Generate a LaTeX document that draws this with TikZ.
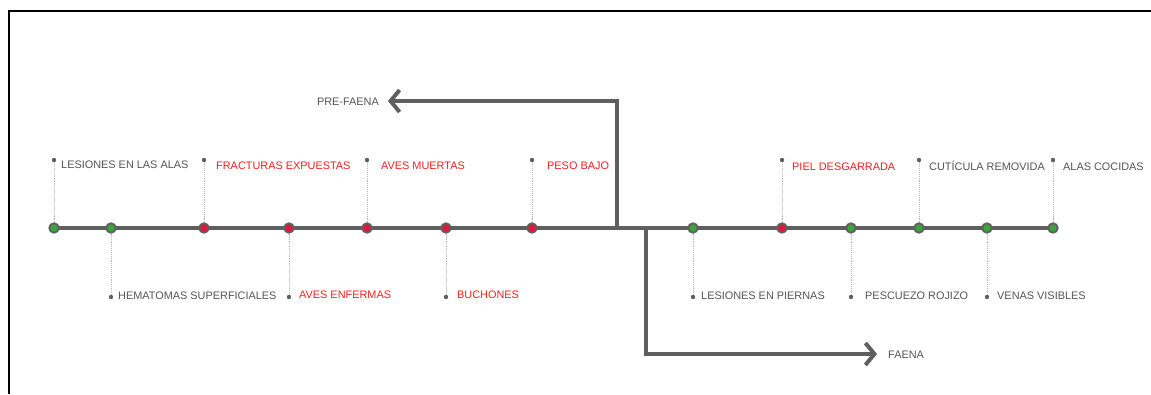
\documentclass[tikz,border=0pt]{standalone}
\usepackage{fontspec}
\setmainfont{Liberation Sans}
\usetikzlibrary{arrows.meta,backgrounds}
\definecolor{linegray}{HTML}{5F5F5F}
\definecolor{txtgray}{HTML}{555555}
\definecolor{okgreen}{HTML}{3AA63A}
\definecolor{badred}{HTML}{E3173A}
\definecolor{txtred}{HTML}{FF1F1F}
\definecolor{pingray}{HTML}{B5B5B5}
\tikzset{
  okdot/.style={circle, fill=okgreen, draw=linegray, line width=1.8pt, minimum size=9.5pt, inner sep=0pt},
  baddot/.style={okdot, fill=badred},
  tag/.style={circle, fill=linegray, minimum size=4.4pt, inner sep=0pt},
  lbl/.style={anchor=west, inner sep=0pt, text height=8pt, text depth=0pt, text=txtgray, font=\fontsize{10.9}{12}\selectfont},
  redlbl/.style={lbl, text=txtred},
  pin/.style={pingray, densely dotted, line width=0.9pt},
  flow/.style={linegray, line width=4pt, -{Straight Barb[length=9pt,width=22pt]}}
}
\begin{document}
\begin{tikzpicture}[x=1pt, y=-1pt]
\useasboundingbox (0,0) rectangle (1151,394);
\draw[line width=2pt] (9,394) -- (9,11) -- (1151,11);
\node[okdot] (d1) at (54,228) {};
\node[okdot] (d2) at (111,228) {};
\node[baddot] (d3) at (204,228) {};
\node[baddot] (d4) at (289,228) {};
\node[baddot] (d5) at (367,228) {};
\node[baddot] (d6) at (446,228) {};
\node[baddot] (d7) at (532,228) {};
\node[okdot] (d8) at (693,228) {};
\node[baddot] (d9) at (782,228) {};
\node[okdot] (d10) at (851,228) {};
\node[okdot] (d11) at (919,228) {};
\node[okdot] (d12) at (987,228) {};
\node[okdot] (d13) at (1053,228) {};
\coordinate (split1) at (617,228);
\coordinate (split2) at (646,228);
\node[tag] (t1) at (54,160) {};
\node[tag] (t2) at (111,297) {};
\node[tag] (t3) at (204,160) {};
\node[tag] (t4) at (289,297) {};
\node[tag] (t5) at (367,160) {};
\node[tag] (t6) at (446,297) {};
\node[tag] (t7) at (532,160) {};
\node[tag] (t8) at (693,297) {};
\node[tag] (t9) at (782,160) {};
\node[tag] (t10) at (851,297) {};
\node[tag] (t11) at (919,160) {};
\node[tag] (t12) at (987,297) {};
\node[tag] (t13) at (1053,160) {};
\node[lbl] (l1) at (61,164) {LESIONES EN LAS ALAS};
\node[lbl] (l2) at (118,295) {HEMATOMAS SUPERFICIALES};
\node[redlbl] (l3) at (216,165) {FRACTURAS EXPUESTAS};
\node[redlbl] (l4) at (299,294) {AVES ENFERMAS};
\node[redlbl] (l5) at (381,165) {AVES MUERTAS};
\node[redlbl] (l6) at (457,294) {BUCHONES};
\node[redlbl] (l7) at (547,165) {PESO BAJO};
\node[lbl] (l8) at (701,295) {LESIONES EN PIERNAS};
\node[redlbl] (l9) at (792,166) {PIEL DESGARRADA};
\node[lbl] (l10) at (865,295) {PESCUEZO ROJIZO};
\node[lbl] (l11) at (929,166) {CUTÍCULA REMOVIDA};
\node[lbl] (l12) at (997,295) {VENAS VISIBLES};
\node[lbl] (l13) at (1063,166) {ALAS COCIDAS};
\node[lbl, anchor=east, inner xsep=9pt] (pre) at (388,101) {PRE-FAENA};
\node[lbl, inner xsep=11pt] (faena) at (877,354) {FAENA};
\begin{scope}[on background layer]
\draw[linegray, line width=4.5pt] (d1.center) -- (d13.center);
\foreach \i in {1,...,13} \draw[pin] (t\i) -- (d\i);
\draw[flow] (split1) |- (pre);
\draw[flow] (split2) |- (faena);
\end{scope}
\end{tikzpicture}
\end{document}
